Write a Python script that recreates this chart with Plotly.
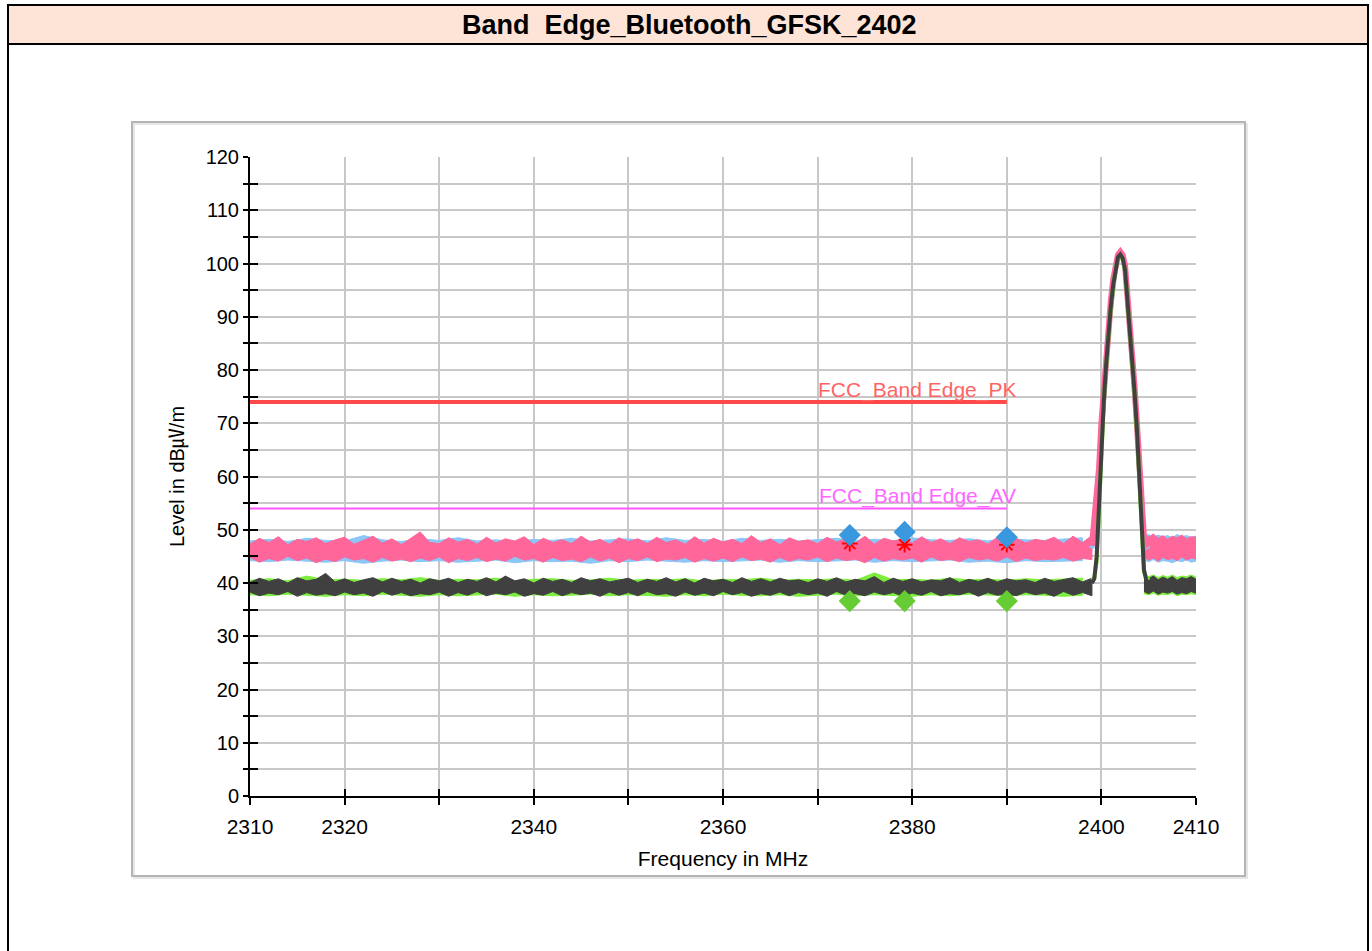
import plotly.graph_objects as go

# ---------------- data ----------------
FREQ = list(range(2310, 2400))            # 1 MHz sweep, left of carrier
FREQ_2 = list(range(2310, 2400, 2))        # 2 MHz sweep for underlying traces
FREQ_R = [2404.5, 2405.0, 2405.5, 2406.0, 2406.5, 2407.0, 2407.5, 2408.0, 2408.5, 2409.0, 2409.5, 2410.0]
PEAK_FREQ = [2399.0, 2399.25, 2399.5, 2399.75, 2400.0, 2400.25, 2400.5, 2400.75,
             2401.0, 2401.25, 2401.5, 2401.75, 2402.0, 2402.25, 2402.5, 2402.75,
             2403.0, 2403.25, 2403.5, 2403.75, 2404.0, 2404.25, 2404.5, 2404.75, 2405.0]

PINK_HI = [47.3,48.4,47.6,48.7,47.2,48.2,47.8,48.5,47.4,48.1,
           48.6,47.3,48.0,48.8,47.5,48.3,47.2,48.4,49.6,47.6,
           47.4,48.5,47.7,48.2,47.3,48.6,47.5,48.3,47.9,48.7,
           47.2,48.4,47.6,48.1,47.4,48.8,47.7,48.2,47.3,48.5,
           47.8,48.3,47.4,48.6,47.6,48.1,47.3,48.7,47.5,48.4,
           47.7,48.2,47.4,48.9,47.6,48.3,47.2,48.5,47.8,48.1,
           47.4,48.6,47.7,48.3,47.5,48.8,47.3,48.4,47.9,48.2,
           47.5,48.7,47.6,48.3,47.4,48.5,47.8,48.1,47.3,48.6,
           47.7,48.4,47.5,48.2,47.9,48.6,47.4,48.8,47.6,48.9]
PINK_LO = [44.8,43.9,44.6,44.1,45.0,44.2,44.7,43.8,44.5,44.0,
           44.9,44.3,44.6,43.9,44.8,44.1,44.5,44.0,44.7,44.2,
           44.9,43.8,44.6,44.2,44.8,44.0,44.5,44.1,45.0,44.3,
           44.6,43.9,44.8,44.2,44.5,44.0,44.9,44.1,44.7,43.8,
           44.6,44.2,44.9,44.0,44.5,44.3,44.8,43.9,44.6,44.1,
           44.7,44.0,44.9,44.2,44.5,43.9,44.8,44.1,44.6,44.3,
           44.9,44.0,44.7,44.2,44.5,43.8,44.8,44.1,44.6,44.3,
           44.7,43.9,44.9,44.2,44.5,44.0,44.8,44.3,44.6,44.1,
           44.9,44.0,44.7,44.2,44.5,44.3,44.8,44.1,44.6,44.4]
GRAY_HI = [40.1,40.9,40.3,40.8,40.0,41.0,40.4,40.7,41.8,40.2,
           40.8,40.1,40.6,41.0,40.2,40.9,40.3,40.7,40.0,40.8,
           40.4,40.9,40.1,40.7,40.3,41.0,40.2,41.3,40.4,40.8,
           40.0,40.9,40.3,40.7,40.1,41.0,40.4,40.8,40.2,40.6,
           40.9,40.1,40.7,40.3,41.0,40.2,40.8,40.0,40.9,40.4,
           40.7,40.1,41.0,40.3,40.8,40.2,40.9,40.4,40.6,40.1,
           40.8,40.3,41.0,40.2,40.7,40.4,41.2,40.1,40.9,40.3,
           40.8,40.2,40.6,40.4,41.0,40.1,40.7,40.3,40.9,40.2,
           40.8,40.4,40.6,40.1,40.9,40.3,40.7,41.0,40.2,40.9]
GRAY_LO = [38.3,37.6,38.1,37.8,38.4,37.5,38.2,37.7,38.0,37.6,
           38.3,37.8,38.1,37.5,38.4,37.7,38.2,37.6,38.0,37.8,
           38.3,37.5,38.2,37.7,38.4,37.6,38.1,37.8,38.3,37.5,
           38.0,37.7,38.4,37.6,38.2,37.8,38.1,37.5,38.3,37.7,
           38.2,37.6,38.4,37.8,38.0,37.5,38.3,37.7,38.1,37.6,
           38.4,37.8,38.2,37.5,38.0,37.7,38.3,37.6,38.2,37.8,
           38.1,37.5,38.4,37.7,38.0,37.6,38.3,37.8,38.2,37.5,
           38.1,37.7,38.4,37.6,38.0,37.8,38.3,37.5,38.2,37.7,
           38.0,37.6,38.3,37.8,38.1,37.5,38.4,37.7,38.2,37.6]
BLUE_HI = [47.9,48.2,47.8,48.4,48.0,47.9,48.9,48.1,47.8,48.3,
           48.0,48.5,47.9,48.1,47.8,48.2,48.0,48.4,47.9,48.1,
           48.3,47.9,48.5,48.0,48.2,47.8,48.4,48.0,48.2,47.9,
           48.1,48.4,48.0,48.2,47.9,48.5,48.1,48.0,48.3,47.9,
           48.4,48.1,48.0,48.2,48.5]
BLUE_LO = [44.2,44.0,44.3,44.1,43.9,44.2,43.7,44.1,44.3,44.0,
           44.2,43.9,44.1,44.3,43.8,44.2,44.0,44.1,43.7,44.2,
           44.0,44.3,44.1,43.9,44.2,44.0,44.1,44.3,43.9,44.2,
           44.0,44.1,44.3,43.9,44.2,44.0,44.1,44.3,43.9,44.1,
           43.8,44.2,44.0,44.1,44.2]
GREEN_HI = [40.5,40.8,40.4,41.3,40.6,40.7,40.5,40.8,40.6,41.0,
            40.5,40.7,40.6,40.9,40.4,40.7,40.8,40.5,40.6,40.9,
            40.5,40.7,40.6,40.8,40.4,40.7,40.6,40.9,40.5,40.7,
            40.6,40.8,40.5,41.9,40.6,40.7,40.5,40.9,40.6,40.7,
            40.5,40.8,40.6,40.7,40.9]
GREEN_LO = [37.8,37.6,37.9,37.7,37.5,37.8,37.6,37.9,37.7,37.5,
            37.8,37.6,37.7,37.9,37.5,37.8,37.6,37.7,37.9,37.6,
            37.8,37.7,37.5,37.8,37.6,37.9,37.7,37.6,37.8,37.5,
            37.7,37.9,37.6,37.8,37.7,37.5,37.8,37.6,37.9,37.7,
            37.6,37.8,37.7,37.5,37.7]

PINK_HI_R = [49.4, 48.6, 49.2, 48.4, 48.9, 48.2, 48.8, 48.5, 49.0, 48.3, 48.7, 48.6]
PINK_LO_R = [44.9, 44.3, 44.7, 44.1, 44.8, 44.4, 44.6, 44.2, 44.9, 44.3, 44.7, 44.5]
BLUE_HI_R = [48.9, 49.1, 48.6, 49.0, 48.7, 48.9, 48.5, 49.1, 48.7, 48.9, 48.6, 48.8]
BLUE_LO_R = [44.3, 44.0, 44.4, 43.9, 44.2, 44.1, 43.8, 44.2, 44.0, 44.3, 43.9, 44.1]
GRAY_HI_R = [42.0, 40.8, 41.3, 40.6, 41.1, 40.7, 41.2, 40.5, 41.0, 40.8, 41.2, 40.7]
GRAY_LO_R = [38.4, 38.0, 38.5, 37.9, 38.3, 38.1, 38.4, 37.9, 38.2, 38.0, 38.4, 38.1]
GREEN_HI_R = [41.8, 41.2, 41.5, 41.0, 41.4, 41.1, 41.5, 41.0, 41.3, 41.2, 41.5, 41.1]
GREEN_LO_R = [38.0, 37.8, 38.1, 37.7, 37.9, 37.8, 38.1, 37.6, 37.9, 37.8, 38.0, 37.8]

PINK_PEAK = [47.0,51.5,54.5,61.5,70.0,76.5,82.5,88.5,93.0,97.0,99.8,101.6,102.2,
             101.6,99.6,94.5,89.0,83.0,77.0,70.0,63.0,55.0,48.5,47.5,46.8]
BLUE_PEAK = [46.5,50.5,54.0,61.0,69.5,76.0,82.0,88.0,92.5,96.5,99.5,101.3,101.9,
             101.3,99.3,94.0,88.5,82.5,76.5,69.5,62.5,54.0,48.0,47.0,46.5]
GRAY_PEAK = [40.0,40.8,45.0,55.0,66.0,74.0,81.0,87.0,92.0,96.0,99.3,101.2,101.7,
             101.0,98.8,93.5,88.0,82.0,76.0,69.0,61.0,51.0,42.5,40.5,40.0]
GREEN_PEAK = [40.5,41.0,44.0,54.0,65.0,73.5,80.5,86.5,91.5,95.5,99.0,100.9,101.4,
              100.7,98.5,93.0,87.5,81.5,75.5,68.5,60.5,50.0,42.0,41.0,40.5]

MARK_FREQ = [2373.4, 2379.2, 2390.0]
PK_MARK = [49.0, 49.6, 48.6]
PK_STAR = [47.4, 47.2, 47.2]
AV_MARK = [36.6, 36.6, 36.6]

LIMIT_FREQ = [2310, 2390]
PK_LIMIT = [74, 74]
AV_LIMIT = [54, 54]
PK_LABEL = "FCC_Band Edge_PK"
AV_LABEL = "FCC_Band Edge_AV"

X_TICKS = [2310, 2320, 2330, 2340, 2350, 2360, 2370, 2380, 2390, 2400, 2410]
X_LABELS = ["2310", "2320", "", "2340", "", "2360", "", "2380", "", "2400", "2410"]
Y_TICKS = [0, 10, 20, 30, 40, 50, 60, 70, 80, 90, 100, 110, 120]
Y_MINOR = [5, 15, 25, 35, 45, 55, 65, 75, 85, 95, 105, 115]

TITLE = "Band\u00a0 Edge_Bluetooth_GFSK_2402"
X_TITLE = "Frequency in MHz"
Y_TITLE = "Level in dB\u33b6/m"

# ---------------- styling ----------------
W, H = 1372, 951
ML, MR, MT, MB = 250, 176, 157, 155
PW, PH = W - ML - MR, H - MT - MB
FONT = "Liberation Sans, Arial, Noto Sans CJK KR, sans-serif"

PINK = "#ff6699"
BLUE = "#8cc6f7"
GRAY = "#404040"
GREEN = "#7ced3c"


def px(x):
    return (x - ML) / PW


def py(y):
    return (H - MB - y) / PH


def band(xs, lo, hi, color):
    xs = list(xs)
    return go.Scatter(x=xs + xs[::-1], y=list(hi) + list(lo)[::-1], mode="lines",
                      fill="toself", fillcolor=color, line=dict(color=color, width=1),
                      hoverinfo="skip", showlegend=False)


def line(xs, ys, color, width):
    return go.Scatter(x=xs, y=ys, mode="lines", line=dict(color=color, width=width),
                      hoverinfo="skip", showlegend=False)


fig = go.Figure()

# limit lines
fig.add_trace(line(LIMIT_FREQ, PK_LIMIT, "#ff4848", 4))
fig.add_trace(line(LIMIT_FREQ, AV_LIMIT, "#ff55ff", 2))

# noise bands
fig.add_trace(band(FREQ_2, BLUE_LO, BLUE_HI, BLUE))
fig.add_trace(band(FREQ_R, BLUE_LO_R, BLUE_HI_R, BLUE))
fig.add_trace(band(FREQ, PINK_LO, PINK_HI, PINK))
fig.add_trace(band(FREQ_R, PINK_LO_R, PINK_HI_R, PINK))
fig.add_trace(band(FREQ_2, GREEN_LO, GREEN_HI, GREEN))
fig.add_trace(band(FREQ_R, GREEN_LO_R, GREEN_HI_R, GREEN))
fig.add_trace(band(FREQ, GRAY_LO, GRAY_HI, GRAY))
fig.add_trace(band(FREQ_R, GRAY_LO_R, GRAY_HI_R, GRAY))

# carrier
fig.add_trace(line(PEAK_FREQ, BLUE_PEAK, BLUE, 5))
fig.add_trace(line(PEAK_FREQ, PINK_PEAK, PINK, 6))
fig.add_trace(line(PEAK_FREQ, GREEN_PEAK, GREEN, 4))
fig.add_trace(line(PEAK_FREQ, GRAY_PEAK, GRAY, 4))

# markers
fig.add_trace(go.Scatter(x=MARK_FREQ, y=PK_STAR, mode="markers",
                         marker=dict(symbol="asterisk-open", size=13, color="#ff0000",
                                     line=dict(color="#ff0000", width=2)),
                         hoverinfo="skip", showlegend=False))
fig.add_trace(go.Scatter(x=MARK_FREQ, y=PK_MARK, mode="markers",
                         marker=dict(symbol="diamond", size=17, color="#3a98de", line=dict(width=0)),
                         hoverinfo="skip", showlegend=False))
fig.add_trace(go.Scatter(x=MARK_FREQ, y=AV_MARK, mode="markers",
                         marker=dict(symbol="diamond", size=17, color="#66cc33", line=dict(width=0)),
                         hoverinfo="skip", showlegend=False))

# empty trace on overlay axes (for crossing ticks)
fig.add_trace(go.Scatter(x=[], y=[], xaxis="x2", yaxis="y2", showlegend=False))

# limit labels
fig.add_annotation(x=LIMIT_FREQ[1], y=PK_LIMIT[1], text=PK_LABEL, showarrow=False,
                   xanchor="right", yanchor="middle", xshift=11, yshift=12,
                   font=dict(family=FONT, size=21, color="#ff6464"))
fig.add_annotation(x=LIMIT_FREQ[1], y=AV_LIMIT[1], text=AV_LABEL, showarrow=False,
                   xanchor="right", yanchor="middle", xshift=11, yshift=12,
                   font=dict(family=FONT, size=21, color="#ff66ff"))

# title bar and frames
fig.add_shape(type="rect", xref="paper", yref="paper", x0=px(8), x1=px(1368), y0=py(960), y1=py(5),
              line=dict(color="black", width=2), fillcolor="rgba(0,0,0,0)", layer="below")
fig.add_shape(type="rect", xref="paper", yref="paper", x0=px(8), x1=px(1368), y0=py(44), y1=py(5),
              line=dict(color="black", width=2), fillcolor="#fde4d6", layer="below")
fig.add_shape(type="rect", xref="paper", yref="paper", x0=px(134), x1=px(1247), y0=py(878), y1=py(124),
              line=dict(color="#e6e6e6", width=2), fillcolor="rgba(0,0,0,0)", layer="below")
fig.add_shape(type="rect", xref="paper", yref="paper", x0=px(132), x1=px(1245), y0=py(876), y1=py(122),
              line=dict(color="#b4b4b4", width=2), fillcolor="rgba(0,0,0,0)", layer="below")
fig.add_annotation(xref="paper", yref="paper", x=px(689), y=py(25), text="<b>" + TITLE + "</b>",
                   showarrow=False, xanchor="center", yanchor="middle",
                   font=dict(family=FONT, size=27, color="black"))

fig.update_layout(
    width=W, height=H,
    margin=dict(l=ML, r=MR, t=MT, b=MB, pad=0),
    paper_bgcolor="white", plot_bgcolor="white",
    font=dict(family=FONT, size=20, color="black"),
    showlegend=False,
    xaxis=dict(range=[2310, 2410], tickvals=X_TICKS, ticktext=X_LABELS, ticks="outside",
               ticklen=7, tickwidth=2, tickcolor="black", ticklabelstandoff=4,
               showline=True, linecolor="black", linewidth=2, zeroline=False,
               showgrid=True, gridcolor="#c8c8c8", gridwidth=2,
               tickfont=dict(size=21), title=dict(text=X_TITLE, font=dict(size=21), standoff=14)),
    yaxis=dict(range=[0, 120], tickvals=Y_TICKS, ticks="outside",
               ticklen=5, tickwidth=2, tickcolor="black",
               showline=True, linecolor="black", linewidth=2, zeroline=False,
               showgrid=True, gridcolor="#c8c8c8", gridwidth=2,
               minor=dict(tickvals=Y_MINOR, ticks="outside", ticklen=5, tickwidth=2, tickcolor="black",
                          showgrid=True, gridcolor="#c8c8c8", gridwidth=2),
               tickfont=dict(size=20), title=dict(text=Y_TITLE, font=dict(size=20), standoff=16)),
    xaxis2=dict(range=[2310, 2410], overlaying="x", anchor="y2", side="bottom", tickvals=X_TICKS,
                ticks="inside", ticklen=7, tickwidth=2, tickcolor="black",
                showticklabels=False, showgrid=False, zeroline=False, showline=False),
    yaxis2=dict(range=[0, 120], overlaying="y", anchor="x2", side="left", tickvals=Y_TICKS + Y_MINOR,
                ticks="inside", ticklen=8, tickwidth=2, tickcolor="black",
                showticklabels=False, showgrid=False, zeroline=False, showline=False),
)

fig.write_html("out.html", config={"displayModeBar": False},
               post_script="document.body.style.margin='0';document.body.style.overflow='hidden';")
